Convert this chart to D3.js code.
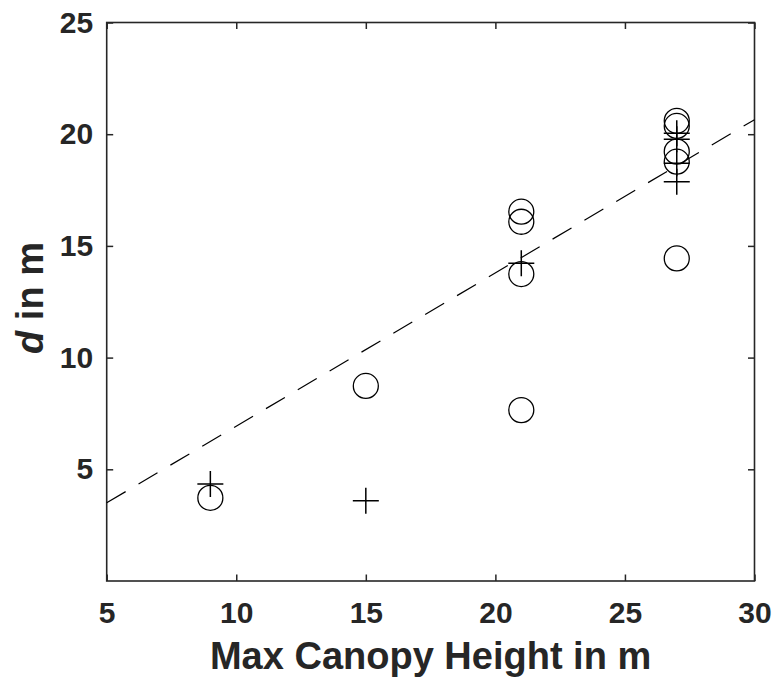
<!DOCTYPE html>
<html>
<head>
<meta charset="utf-8">
<script src="https://cdn.jsdelivr.net/npm/d3@7"></script>
<style>
  body { margin: 0; background: #fff; }
  svg { display: block; }
  .axis text { font-family: "Liberation Sans", Arial, sans-serif; font-weight: bold; font-size: 30px; fill: #262626; }
  .axis line { stroke: #262626; stroke-width: 1.5; }
  .axis path { display: none; }
  .lbl { font-family: "Liberation Sans", Arial, sans-serif; font-weight: bold; font-size: 38px; fill: #262626; }
</style>
</head>
<body>
<svg id="chart"></svg>
<script>
// circles series
var circleX = [9, 15, 21, 21, 21, 21, 27, 27, 27, 27, 27]
var circleY = [3.72, 8.73, 16.53, 16.08, 13.74, 7.65, 20.6, 20.37, 19.22, 18.77, 14.44]
// plus series
var plusX = [9, 15, 21, 27, 27, 27, 27]
var plusY = [4.34, 3.59, 14.22, 20.04, 19.77, 18.7, 17.87]
// dashed fit line ends
var fitX = [5, 30]
var fitY = [3.5, 20.65]

var xTicks = [5, 10, 15, 20, 25, 30]
var yTicks = [5, 10, 15, 20, 25]

var width = 778, height = 684
var plotLeft = 106.7, plotRight = 754.5, plotTop = 22.5, plotBottom = 581

var svg = d3.select('#chart')
    .attr('width', width)
    .attr('height', height)

var xScale = d3.scaleLinear().domain([5, 30]).range([plotLeft, plotRight])
var yScale = d3.scaleLinear().domain([0, 25]).range([plotBottom, plotTop])

// axes, ticks pointing in
svg.append('g')
    .attr('class', 'axis')
    .attr('transform', 'translate(0,' + plotBottom + ')')
    .call(d3.axisBottom(xScale).tickValues(xTicks).tickSize(-6.5).tickSizeOuter(0).tickPadding(21))
svg.append('g')
    .attr('class', 'axis')
    .attr('transform', 'translate(0,' + plotTop + ')')
    .call(d3.axisTop(xScale).tickValues(xTicks).tickSize(-6.5).tickSizeOuter(0).tickFormat(''))
svg.append('g')
    .attr('class', 'axis')
    .attr('transform', 'translate(' + plotLeft + ',0)')
    .call(d3.axisLeft(yScale).tickValues(yTicks).tickSize(-6.5).tickSizeOuter(0).tickPadding(13.5))
svg.append('g')
    .attr('class', 'axis')
    .attr('transform', 'translate(' + plotRight + ',0)')
    .call(d3.axisRight(yScale).tickValues(yTicks).tickSize(-6.5).tickSizeOuter(0).tickFormat(''))

// box
svg.append('rect')
    .attr('x', plotLeft)
    .attr('y', plotTop)
    .attr('width', plotRight - plotLeft)
    .attr('height', plotBottom - plotTop)
    .attr('fill', 'none')
    .attr('stroke', '#262626')
    .attr('stroke-width', 1.6)

// fit line
var fit = fitX.map(function (d, i) { return [d, fitY[i]] })
svg.append('path')
    .attr('d', d3.line().x(function (d) { return xScale(d[0]) }).y(function (d) { return yScale(d[1]) })(fit))
    .attr('fill', 'none')
    .attr('stroke', '#000')
    .attr('stroke-width', 1.2)
    .attr('stroke-dasharray', '22,15')

svg.selectAll('circle.pt')
    .data(circleX)
    .enter()
    .append('circle')
    .attr('class', 'pt')
    .attr('cx', function (d) { return xScale(d) })
    .attr('cy', function (d, i) { return yScale(circleY[i]) })
    .attr('r', 12.5)
    .attr('fill', 'none')
    .attr('stroke', '#000')
    .attr('stroke-width', 1.3)

svg.selectAll('path.plus')
    .data(plusX)
    .enter()
    .append('path')
    .attr('class', 'plus')
    .attr('d', 'M-13,0H13M0,-13V13')
    .attr('transform', function (d, i) {
        return 'translate(' + xScale(d) + ',' + yScale(plusY[i]) + ')'
    })
    .attr('stroke', '#000')
    .attr('stroke-width', 1.5)

// labels
svg.append('text')
    .attr('class', 'lbl')
    .attr('x', (plotLeft + plotRight) / 2)
    .attr('y', 669)
    .attr('text-anchor', 'middle')
    .text('Max Canopy Height in m')

var yl = svg.append('text')
    .attr('class', 'lbl')
    .attr('text-anchor', 'middle')
    .attr('transform', 'translate(43,298) rotate(-90)')
yl.append('tspan').attr('font-style', 'italic').text('d')
yl.append('tspan').text(' in m')
</script>
</body>
</html>
